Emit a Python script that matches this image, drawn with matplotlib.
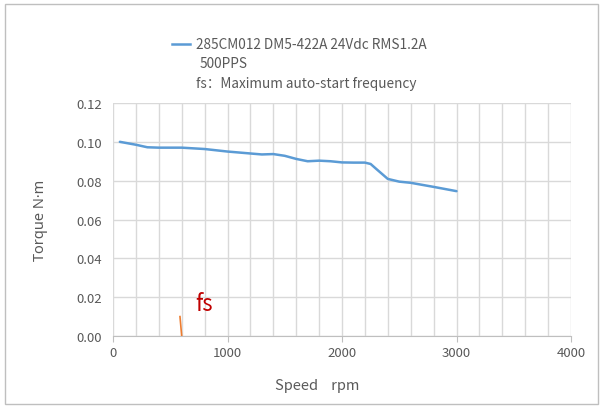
import numpy as np
import matplotlib.pyplot as plt
from matplotlib.patches import Rectangle

plt.rcParams['font.family'] = ['Noto Sans CJK SC', 'DejaVu Sans']

# torque curve
speed = [60, 200, 300, 400, 600, 800, 1000, 1200, 1300, 1400, 1500, 1600,
         1700, 1800, 1900, 2000, 2100, 2200, 2250, 2300, 2400, 2500, 2600,
         2800, 3000]
torque = [0.100, 0.0985, 0.0972, 0.0970, 0.0970, 0.0963, 0.0950, 0.0940,
          0.0935, 0.0937, 0.0928, 0.0912, 0.0900, 0.0903, 0.0900, 0.0894,
          0.0893, 0.0893, 0.0886, 0.0860, 0.0809, 0.0795, 0.0789, 0.0768,
          0.0746]

# fs marker
fs_speed = [585, 600]
fs_torque = [0.010, 0.0]

series_label = "285CM012 DM5-422A 24Vdc RMS1.2A"
note1 = "500PPS"
note2 = "fs：Maximum auto-start frequency"

grey = '#595959'
grid_c = '#d9d9d9'

fig = plt.figure(figsize=(6.04, 4.10), dpi=100)
ax = fig.add_axes([113/604, 73/410, 458/604, 233/410])

ax.plot(speed, torque, color='#5b9bd5', lw=1.8, solid_capstyle='round', zorder=3)
ax.plot(fs_speed, fs_torque, color='#ed7d31', lw=1.2, zorder=3)
ax.text(720, 0.0165, "fs", color='#c00000', fontsize=16, va='center', ha='left')

ax.set_xlim(0, 4000)
ax.set_ylim(0, 0.12)
ax.set_xticks(np.arange(0, 4001, 1000))
ax.set_xticks(np.arange(0, 4001, 200), minor=True)
ax.set_yticks(np.arange(0, 0.121, 0.02))
ax.yaxis.set_major_formatter(plt.FormatStrFormatter('%.2f'))
ax.grid(True, which='both', axis='x', color=grid_c, lw=1)
ax.grid(True, which='major', axis='y', color=grid_c, lw=1)
ax.set_axisbelow(True)
for s in ax.spines.values():
    s.set_visible(False)
ax.spines['bottom'].set_visible(True)
ax.spines['bottom'].set_color('#bfbfbf')
ax.tick_params(axis='x', which='major', length=4, color='#bfbfbf', labelsize=9.5, labelcolor=grey, pad=3)
ax.tick_params(axis='x', which='minor', length=0)
ax.tick_params(axis='y', length=0, labelsize=9.5, labelcolor=grey, pad=8)

ax.set_xlabel("Speed    rpm", fontsize=10.5, color=grey)
ax.xaxis.set_label_coords(0.445, -0.18)
ax.set_ylabel("Torque N·m", fontsize=10.5, color=grey, family=['Noto Sans', 'DejaVu Sans'])
ax.yaxis.set_label_coords(-0.142, 0.5)

# legend block at top
fig.lines.append(plt.Line2D([172/604, 190/604], [1 - 45/410, 1 - 45/410],
                            transform=fig.transFigure, color='#5b9bd5', lw=1.8))
fig.text(196/604, 1 - 45/410, series_label, fontsize=9.8, color=grey, va='center')
fig.text(200/604, 1 - 64/410, note1, fontsize=9.8, color=grey, va='center')
fig.text(196/604, 1 - 84/410, note2, fontsize=9.8, color=grey, va='center')

# outer frame
fig.patches.append(Rectangle((5/604, 5/410), 593/604, 400/410, transform=fig.transFigure,
                             fill=False, edgecolor='#bfbfbf', lw=1))

fig.savefig('out.png', dpi=100)
